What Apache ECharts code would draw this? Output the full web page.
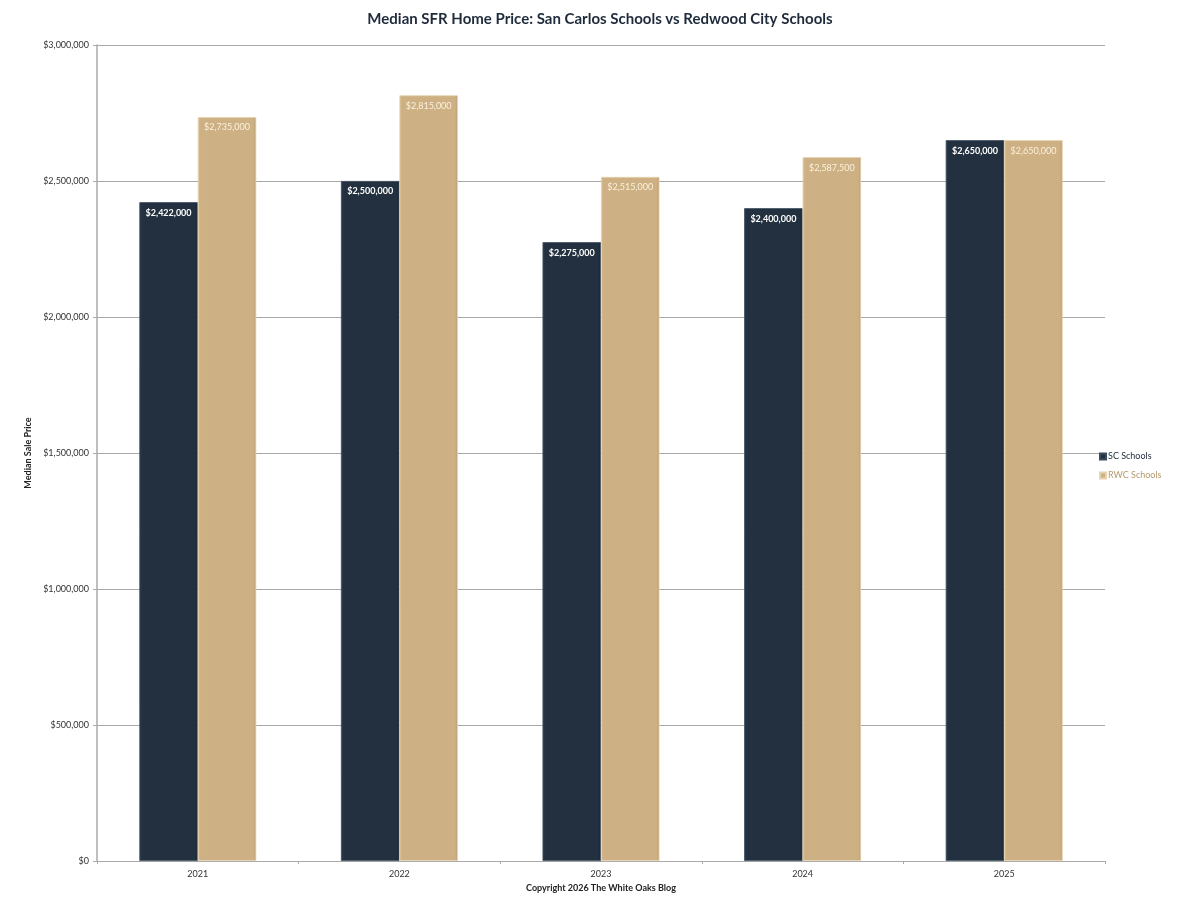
<!DOCTYPE html>
<html><head><meta charset="utf-8">
<script src="https://cdn.jsdelivr.net/npm/echarts@6/dist/echarts.min.js"></script>
<style>html,body{margin:0;padding:0;background:#fff}#c{width:1200px;height:908px}</style>
</head><body><div id="c"></div>
<script>
const categories = ['2021','2022','2023','2024','2025'];
const scSchools = [2422000, 2500000, 2275000, 2400000, 2650000];
const rwcSchools = [2735000, 2815000, 2515000, 2587500, 2650000];
const seriesNames = ['SC Schools','RWC Schools'];
const FONT = 'Lato';
const fmt = v => '$' + v.toLocaleString('en-US');
const chart = echarts.init(document.getElementById('c'));
chart.setOption({
  backgroundColor:'#fff',
  animation:false,
  textStyle:{fontFamily:FONT},
  title:{text:'Median SFR Home Price: San Carlos Schools vs Redwood City Schools',left:'center',top:7,
    textStyle:{fontFamily:FONT,fontSize:15,fontWeight:'bold',color:'#1f2b3b'}},
  legend:{orient:'vertical',left:1094,top:447,itemWidth:6,itemHeight:6,itemGap:10,icon:'rect',
    data:[{name:seriesNames[0],textStyle:{color:'#1f2b3b'}},{name:seriesNames[1],textStyle:{color:'#b59a6e'}}],
    textStyle:{fontFamily:FONT,fontSize:9,padding:[0,0,0,-3]}},
  grid:{left:97,right:95,top:45,bottom:47,containLabel:false},
  xAxis:{type:'category',data:categories,
    name:'Copyright 2026 The White Oaks Blog',nameLocation:'middle',nameGap:16,
    nameTextStyle:{fontFamily:FONT,fontSize:9,fontWeight:'bold',color:'#222'},
    axisLine:{lineStyle:{color:'#aaa',width:1}},
    axisTick:{show:true,length:3,lineStyle:{color:'#aaa'}},
    axisLabel:{fontFamily:FONT,fontSize:9,color:'#333',margin:9}},
  yAxis:{type:'value',min:0,max:3000000,interval:500000,
    name:'Median Sale Price',nameLocation:'middle',nameGap:60,
    nameTextStyle:{fontFamily:FONT,fontSize:9,fontWeight:'bold',color:'#222'},
    axisLine:{show:true,lineStyle:{color:'#aaa',width:1.5}},
    axisTick:{show:true,length:4,lineStyle:{color:'#aaa'}},
    axisLabel:{fontFamily:FONT,fontSize:9,color:'#333',margin:8,formatter:v=>fmt(v)},
    splitLine:{lineStyle:{color:'#a8a8a8',width:1}}},
  series:[
    {name:seriesNames[0],type:'bar',data:scSchools,barGap:'0%',barCategoryGap:'42%',
     itemStyle:{color:new echarts.graphic.LinearGradient(0,0,1,0,[{offset:0,color:'#2b3a4c'},{offset:0.05,color:'#22303f'},{offset:0.95,color:'#22303f'},{offset:1,color:'#1a2533'}]),
       borderColor:'#3b4c60',borderWidth:0.8},
     label:{show:true,position:'insideTop',distance:6,formatter:p=>fmt(p.value),color:'#fff',fontFamily:FONT,fontSize:9,fontWeight:'bold'}},
    {name:seriesNames[1],type:'bar',data:rwcSchools,
     itemStyle:{color:new echarts.graphic.LinearGradient(0,0,1,0,[{offset:0,color:'#d6bb8f'},{offset:0.05,color:'#cdb083'},{offset:0.95,color:'#cdb083'},{offset:1,color:'#b99c6f'}]),
       borderColor:'#e6d3ad',borderWidth:0.8},
     label:{show:true,position:'insideTop',distance:6,formatter:p=>fmt(p.value),color:'#fbf1dc',fontFamily:FONT,fontSize:9}}
  ]
});
</script></body></html>
